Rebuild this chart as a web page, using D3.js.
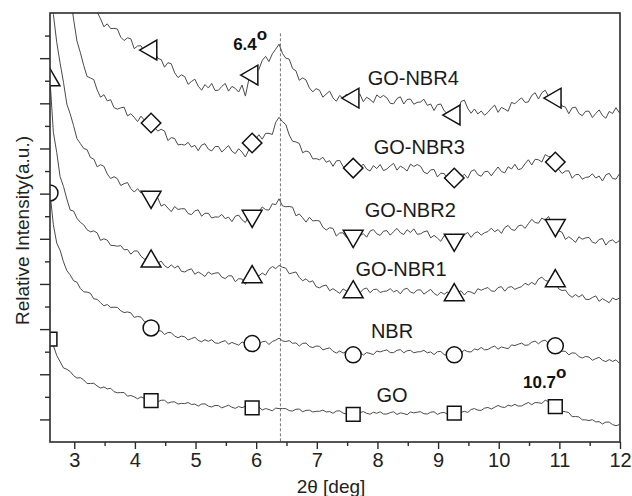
<!DOCTYPE html>
<html>
<head>
<meta charset="utf-8">
<script src="https://cdn.jsdelivr.net/npm/d3@7/dist/d3.min.js"></script>
<style>
  body { margin: 0; background: #fff; }
  svg { display: block; font-family: "Liberation Sans", Arial, Helvetica, sans-serif; }
</style>
</head>
<body>
<svg id="chart" width="632" height="496"></svg>
<script>
// ---- data -------------------------------------------------------------
// Scan grid: 2θ from 2.6° in steps of 1/18°, 170 points per pattern
const angleStart = 2.6;
const angleStep = 1 / 18;
const pointCount = 170;
const twoTheta = d3.range(pointCount).map(i => angleStart + i * angleStep);

const seriesNames = ["GO", "NBR", "GO-NBR1", "GO-NBR2", "GO-NBR3", "GO-NBR4"];

// Offset intensities (a.u.), one value per scan step
const intensityGO = [
  456,427,383,356,328,322,312,294,283,285,
  275,259,259,260,248,239,244,235,238,223,
  218,219,219,203,206,200,191,200,193,193,
  183,181,178,185,185,172,177,178,168,171,
  170,175,166,168,159,168,169,159,155,162,
  161,151,157,163,154,149,157,152,158,148,
  151,152,155,142,148,144,138,150,148,148,
  148,139,137,145,146,134,140,141,133,136,
  136,141,133,135,127,137,138,128,124,131,
  122,121,129,135,127,123,132,127,134,124,
  124,130,134,122,129,126,121,133,129,132,
  134,125,124,132,134,122,129,131,123,127,
  128,137,131,136,131,144,148,141,140,150,
  153,146,154,162,155,153,163,159,167,159,
  160,168,175,165,175,174,171,185,179,176,
  157,147,136,134,130,112,113,111,98,98,
  95,99,89,90,80,88,88,77,72,77
];
const intensityNBR = [
  1103,962,881,849,798,759,740,714,708,680,
  665,664,659,634,632,617,603,609,596,597,
  596,581,573,576,572,552,556,553,534,528,
  505,507,492,492,476,485,484,469,462,469,
  466,452,458,464,450,444,453,446,453,439,
  437,444,449,433,441,435,429,443,438,441,
  436,433,433,444,446,432,445,451,460,448,
  445,449,437,439,425,437,438,423,418,425,
  424,408,413,417,402,394,403,394,401,385,
  386,393,399,385,396,392,387,403,399,404,
  408,396,396,406,409,395,404,406,395,399,
  400,406,395,399,387,400,401,387,383,391,
  386,382,395,407,400,399,412,408,419,408,
  410,419,425,411,421,417,413,430,427,433,
  438,428,430,442,447,435,447,451,438,438,
  426,422,402,402,386,395,393,378,372,379,
  376,362,369,375,362,356,365,357,364,349
];
const intensityGONBR1 = [
  1603,1372,1282,1175,1132,1076,1027,1023,991,973,
  962,940,931,935,926,893,900,894,871,870,
  867,870,851,853,832,846,846,823,810,816,
  800,785,793,801,781,771,784,771,780,756,
  753,762,767,743,753,744,733,753,743,748,
  750,730,724,736,736,710,723,722,698,719,
  731,746,736,748,739,765,777,768,782,774,
  770,745,749,753,729,714,723,708,714,688,
  683,691,695,670,679,669,658,678,669,674,
  664,661,660,677,682,661,675,677,662,667,
  669,679,665,672,656,676,681,664,659,673,
  674,655,666,676,658,649,664,654,665,644,
  651,659,670,651,667,664,656,679,672,679,
  684,669,667,684,688,668,685,688,676,683,
  688,703,695,707,697,722,730,715,712,722,
  713,678,671,673,652,641,653,642,653,632,
  631,640,647,623,635,626,617,638,630,637
];
const intensityGONBR2 = [
  2150,1894,1770,1678,1593,1496,1453,1401,1344,1322,
  1300,1295,1260,1253,1219,1228,1221,1187,1167,1175,
  1166,1136,1144,1149,1122,1107,1122,1103,1112,1082,
  1085,1081,1081,1045,1053,1036,1020,1043,1030,1033,
  1033,1012,1007,1024,1028,1000,1013,1013,992,997,
  996,1008,989,996,976,1000,1005,984,972,1000,
  1001,996,1020,1041,1029,1027,1055,1051,1077,1046,
  1042,1043,1040,1002,1010,993,974,995,979,981,
  979,951,939,949,946,912,926,926,906,911,
  912,928,913,923,907,934,941,922,915,934,
  936,916,932,946,927,919,940,928,944,920,
  922,931,935,904,915,903,889,914,902,908,
  895,894,895,918,928,906,925,931,916,927,
  932,947,931,941,924,950,959,941,937,957,
  961,946,967,986,972,969,992,982,999,965,
  960,935,929,897,909,898,884,909,898,904,
  906,885,880,897,901,872,890,895,881,892
];
const intensityGONBR3 = [
  2700,2584,2425,2304,2152,2059,1976,1873,1776,1725,
  1668,1619,1612,1605,1559,1527,1538,1511,1516,1481,
  1474,1480,1483,1444,1454,1438,1419,1443,1426,1430,
  1413,1393,1377,1385,1377,1335,1348,1344,1316,1318,
  1315,1327,1306,1314,1290,1315,1321,1297,1289,1308,
  1309,1284,1299,1313,1288,1277,1299,1284,1262,1293,
  1324,1339,1361,1341,1367,1367,1362,1416,1438,1419,
  1406,1360,1332,1329,1322,1281,1289,1283,1254,1255,
  1250,1261,1239,1246,1221,1245,1247,1220,1208,1223,
  1213,1197,1215,1231,1209,1200,1224,1211,1229,1202,
  1209,1223,1234,1204,1222,1213,1200,1231,1220,1229,
  1221,1195,1188,1205,1207,1174,1190,1189,1164,1169,
  1169,1187,1172,1186,1168,1199,1206,1184,1177,1197,
  1199,1179,1199,1218,1198,1192,1219,1209,1230,1206,
  1211,1232,1250,1227,1252,1250,1240,1273,1264,1263,
  1240,1208,1189,1200,1201,1168,1184,1185,1164,1172,
  1174,1188,1169,1178,1156,1183,1190,1167,1164,1187
];
const intensityGONBR4 = [
  3200,3042,2922,2800,2636,2486,2432,2338,2278,2168,
  2090,2059,2025,1944,1904,1874,1839,1852,1831,1832,
  1829,1793,1778,1790,1786,1742,1754,1755,1729,1736,
  1736,1736,1699,1694,1660,1680,1675,1635,1614,1626,
  1618,1584,1597,1607,1576,1558,1583,1568,1588,1557,
  1558,1575,1588,1554,1575,1566,1550,1581,1532,1604,
  1625,1635,1650,1690,1708,1685,1719,1740,1762,1721,
  1700,1696,1654,1644,1602,1613,1603,1568,1551,1565,
  1558,1527,1541,1554,1524,1509,1535,1521,1541,1511,
  1523,1529,1541,1507,1527,1517,1503,1537,1525,1535,
  1524,1500,1498,1521,1529,1497,1517,1519,1496,1504,
  1506,1518,1491,1497,1468,1494,1497,1467,1454,1465,
  1448,1459,1508,1514,1478,1456,1475,1453,1466,1447,
  1460,1478,1492,1460,1482,1474,1465,1504,1498,1513,
  1524,1504,1506,1535,1547,1519,1547,1558,1531,1531,
  1523,1524,1488,1483,1454,1480,1483,1455,1445,1465,
  1465,1437,1455,1471,1446,1434,1464,1455,1481,1458
];
const seriesValues = [intensityGO, intensityNBR, intensityGONBR1,
                      intensityGONBR2, intensityGONBR3, intensityGONBR4];

const xTickValues = [3, 4, 5, 6, 7, 8, 9, 10, 11, 12];
const xMinorTickValues = [3.5, 4.5, 5.5, 6.5, 7.5, 8.5, 9.5, 10.5, 11.5];
const yMajorTickValues = [100, 300, 500, 700, 900, 1100, 1300, 1500, 1700];
const yMinorTickValues = [200, 400, 600, 800, 1000, 1200, 1400, 1600, 1800];

// Reflection positions marked on the plot
const peakAngles = [6.4, 10.7];
const peakTexts = ["6.4", "10.7"];

// ---- layout -----------------------------------------------------------
const W = 632, H = 496;
const M = { left: 50, right: 12, top: 13, bottom: 54 };
const plotW = W - M.left - M.right;
const plotH = H - M.top - M.bottom;
const markerEvery = 30;

// where each curve's name is written (2θ, intensity of text baseline)
const labelSpots = [[8.24, 177], [8.24, 461], [8.39, 735], [8.54, 996], [8.69, 1275], [8.59, 1581]];
// where each peak annotation starts (2θ, intensity of baseline)
const peakTextSpots = [[5.62, 1737], [10.40, 239]];

const svg = d3.select("#chart");
const g = svg.append("g").attr("transform", `translate(${M.left},${M.top})`);

const x = d3.scaleLinear().domain([2.6, 12]).range([0, plotW]);
const y = d3.scaleLinear().domain([0, 1900]).range([plotH, 0]);

svg.append("defs").append("clipPath").attr("id", "plotClip")
  .append("rect").attr("x", 0).attr("y", 0).attr("width", plotW).attr("height", plotH);

// ---- axes -------------------------------------------------------------
const axisColor = "#2b2b2b";
function styleAxis(sel) {
  sel.selectAll(".domain").remove();
  sel.selectAll(".tick line").attr("stroke", axisColor).attr("stroke-width", 1.4);
  sel.selectAll(".tick text").attr("fill", "#222").attr("font-size", 20)
     .attr("font-family", "'Liberation Sans', Arial, sans-serif");
}

g.append("g").attr("transform", `translate(0,${plotH})`)
  .call(d3.axisBottom(x).tickValues(xTickValues).tickSize(7).tickPadding(4).tickFormat(d3.format("d")))
  .call(styleAxis);
g.append("g").attr("transform", `translate(0,${plotH})`)
  .call(d3.axisBottom(x).tickValues(xMinorTickValues).tickSize(4).tickFormat(""))
  .call(styleAxis);
g.append("g")
  .call(d3.axisLeft(y).tickValues(yMajorTickValues).tickSize(10).tickFormat(""))
  .call(styleAxis);
g.append("g")
  .call(d3.axisLeft(y).tickValues(yMinorTickValues).tickSize(5).tickFormat(""))
  .call(styleAxis);

// vertical reference line at the main reflection
g.append("line")
  .attr("x1", x(peakAngles[0])).attr("x2", x(peakAngles[0]))
  .attr("y1", y(1810)).attr("y2", plotH)
  .attr("stroke", "#777").attr("stroke-width", 1).attr("stroke-dasharray", "3,2");

// ---- curves -----------------------------------------------------------
const plot = g.append("g").attr("clip-path", "url(#plotClip)");
const line = d3.line().x((d, i) => x(twoTheta[i])).y(d => y(d));

seriesValues.forEach(vals => {
  plot.append("path").datum(vals)
    .attr("d", line)
    .attr("fill", "none")
    .attr("stroke", "#4a4a4a")
    .attr("stroke-width", 1)
    .attr("stroke-linejoin", "round");
});

// ---- markers ----------------------------------------------------------
const markerShapes = [
  { type: d3.symbolSquare, size: 190, rotate: 0 },
  { type: d3.symbolCircle, size: 200, rotate: 0 },
  { type: d3.symbolTriangle, size: 170, rotate: 0 },
  { type: d3.symbolTriangle, size: 170, rotate: 180 },
  { type: d3.symbolSquare, size: 190, rotate: 45 },
  { type: d3.symbolTriangle, size: 170, rotate: -90 }
];

seriesValues.forEach((vals, s) => {
  const shape = markerShapes[s];
  const pts = vals.map((v, i) => ({ a: twoTheta[i], v, i })).filter(p => p.i % markerEvery === 0);
  plot.selectAll(null).data(pts).enter().append("path")
    .attr("d", d3.symbol().type(shape.type).size(shape.size))
    .attr("transform", p => `translate(${x(p.a)},${y(p.v)}) rotate(${shape.rotate})`)
    .attr("fill", "#fff")
    .attr("stroke", "#111")
    .attr("stroke-width", 1.5);
});

// ---- frame ------------------------------------------------------------
g.append("rect").attr("x", 0).attr("y", 0).attr("width", plotW).attr("height", plotH)
  .attr("fill", "none").attr("stroke", axisColor).attr("stroke-width", 1.6);

// ---- series names -----------------------------------------------------
seriesNames.forEach((name, s) => {
  g.append("text")
    .attr("x", x(labelSpots[s][0])).attr("y", y(labelSpots[s][1]))
    .attr("text-anchor", "middle")
    .attr("font-size", 20).attr("fill", "#1a1a1a")
    .text(name);
});

// ---- peak annotations -------------------------------------------------
peakTexts.forEach((t, k) => {
  const txt = g.append("text")
    .attr("x", x(peakTextSpots[k][0])).attr("y", y(peakTextSpots[k][1]))
    .attr("font-size", 17).attr("font-weight", "bold").attr("fill", "#111");
  txt.append("tspan").text(t);
  txt.append("tspan").attr("dy", -10).attr("font-size", 17).text("o");
});

// ---- axis titles ------------------------------------------------------
svg.append("text")
  .attr("transform", `translate(29,${M.top + plotH / 2 + 3}) rotate(-90)`)
  .attr("text-anchor", "middle").attr("font-size", 19).attr("fill", "#222")
  .text("Relative Intensity(a.u.)");

svg.append("text")
  .attr("x", 331).attr("y", 493)
  .attr("text-anchor", "middle").attr("font-size", 19).attr("fill", "#222")
  .text("2θ [deg]");
</script>
</body>
</html>
